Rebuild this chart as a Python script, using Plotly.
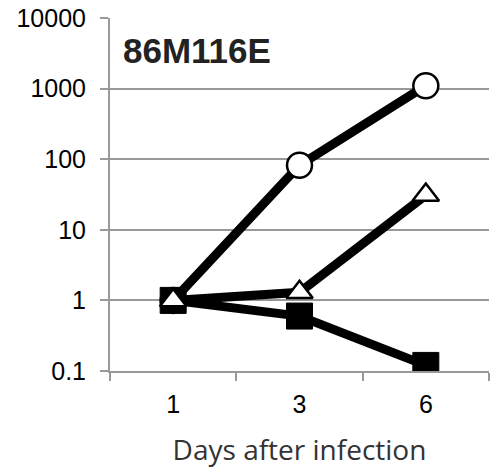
import plotly.graph_objects as go

days = ["1", "3", "6"]
circle_vals = [1.0, 82, 1100]
triangle_vals = [1.0, 1.3, 31]
square_vals = [1.0, 0.6, 0.12]
y_ticks = [0.1, 1, 10, 100, 1000, 10000]
y_tick_labels = ["0.1", "1", "10", "100", "1000", "10000"]

fig = go.Figure()
fig.add_trace(go.Scatter(x=days, y=circle_vals, mode="lines+markers",
                         line=dict(color="black", width=9),
                         marker=dict(symbol="circle", size=25, color="white",
                                     line=dict(color="black", width=2.5))))
fig.add_trace(go.Scatter(x=days, y=square_vals, mode="lines+markers",
                         line=dict(color="black", width=9),
                         marker=dict(symbol="square", size=26, color="black",
                                     line=dict(color="black", width=1))))
fig.add_trace(go.Scatter(x=days, y=triangle_vals, mode="lines+markers",
                         line=dict(color="black", width=9),
                         marker=dict(symbol="triangle-up", size=23, color="white",
                                     line=dict(color="black", width=2.5))))

fig.update_layout(
    width=494, height=470,
    margin=dict(l=110, r=5, t=18, b=99),
    paper_bgcolor="white", plot_bgcolor="white",
    showlegend=False,
    font=dict(family="Arial, Liberation Sans, sans-serif", size=25, color="black"),
    annotations=[dict(text="<b>86M116E</b>", x=0.03, y=0.968, xref="paper", yref="paper",
                      xanchor="left", yanchor="top", showarrow=False,
                      font=dict(size=35, color="#222222"))],
)
fig.update_xaxes(type="category", tickson="boundaries", ticks="outside", ticklen=8,
                 tickcolor="#999999", tickwidth=2, showline=True, linecolor="#999999",
                 linewidth=2, showgrid=False, range=[-0.5, 2.5],
                 title=dict(text="Days after infection",
                            font=dict(family="Open Sans, sans-serif", size=28, color="#333333"),
                            standoff=23),
                 tickfont=dict(size=25), ticklabelstandoff=10)
fig.update_yaxes(type="log", range=[-1, 4], tickvals=y_ticks, ticktext=y_tick_labels,
                 ticks="outside", ticklen=8, tickcolor="#999999", tickwidth=2,
                 showline=True, linecolor="#999999", linewidth=2,
                 showgrid=True, gridcolor="#999999", gridwidth=2, zeroline=False,
                 tickfont=dict(size=25), ticklabelstandoff=9)

fig.write_html("out.html")
